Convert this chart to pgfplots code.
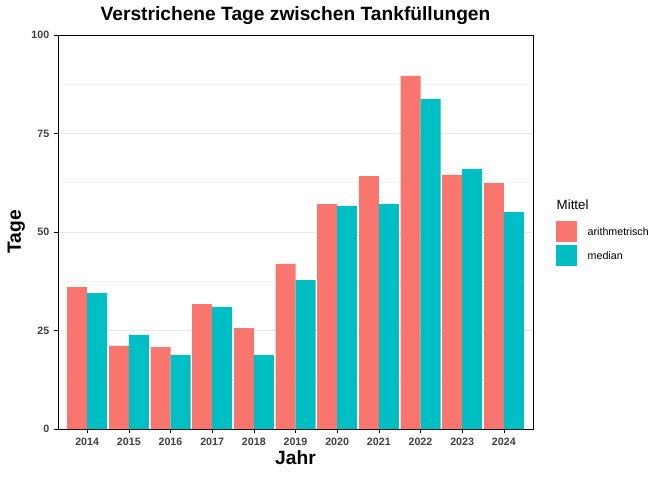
\documentclass[border=0pt]{standalone}
\usepackage{pgfplots}
\pgfplotsset{compat=1.18}
\usepackage{fontspec}
\setmainfont{Liberation Sans}
\definecolor{cA}{HTML}{F8766D}
\definecolor{cB}{HTML}{00BFC4}
\begin{document}
\begin{tikzpicture}
\useasboundingbox (0,0) rectangle (504pt,360pt);
\begin{axis}[at={(43.5pt,38.25pt)},anchor=south west,scale only axis,
 width=356.25pt,height=295.5pt,
 ymin=0,ymax=100,xmin=-0.7,xmax=10.7,
 ybar=0pt,bar width=15pt,
 xtick={0,...,10},xticklabels={2014,2015,2016,2017,2018,2019,2020,2021,2022,2023,2024},
 ytick={0,25,50,75,100},minor ytick={12.5,37.5,62.5,87.5},
 ymajorgrids,yminorgrids,
 major grid style={gray!18},minor grid style={gray!10},
 tick style={black},major tick length=3pt,minor tick length=0pt,
 tick align=outside,xtick pos=bottom,ytick pos=left,
 ticklabel style={font=\bfseries\footnotesize,text=black!75},
 /pgf/number format/assume math mode=true,
 axis line style={black},
 xlabel={Jahr},ylabel={Tage},
 label style={font=\bfseries\Large},
 xlabel style={yshift=3pt},ylabel style={yshift=-2pt},
 title={Verstrichene Tage zwischen Tankfüllungen},
 title style={font=\bfseries\Large,yshift=-2pt},
]
\addplot[fill=cA,draw=none] coordinates {(0,36.0)(1,21.1)(2,20.8)(3,31.7)(4,25.6)(5,41.9)(6,57.1)(7,64.2)(8,89.6)(9,64.5)(10,62.4)};
\addplot[fill=cB,draw=none] coordinates {(0,34.5)(1,23.9)(2,18.8)(3,31.0)(4,18.8)(5,37.8)(6,56.6)(7,57.1)(8,83.8)(9,66.0)(10,55.1)};
\end{axis}
\begin{scope}[x=0.75pt,y=-0.75pt,yshift=360pt]
\node[anchor=west,font=\normalsize] at (552,205) {Mittel};
\fill[cA] (556,221) rectangle (577,242);
\fill[cB] (556,245) rectangle (577,266);
\node[anchor=west,font=\footnotesize] at (583,232) {arithmetrisch};
\node[anchor=west,font=\footnotesize] at (583,256) {median};
\end{scope}
\end{tikzpicture}
\end{document}
